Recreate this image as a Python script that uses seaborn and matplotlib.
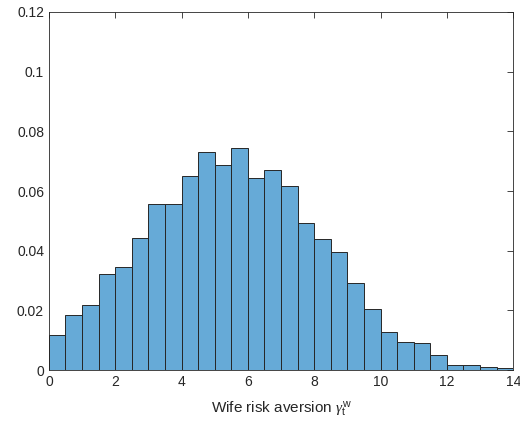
import numpy as np
import pandas as pd
import seaborn as sns
import matplotlib.pyplot as plt

# Bin edges (width 0.5) and normalized heights
bin_edges = np.arange(0, 14.5, 0.5)
bin_heights = [0.0118, 0.0184, 0.0218, 0.0323, 0.0347, 0.0443, 0.0557, 0.0557,
               0.0651, 0.0732, 0.0688, 0.0745, 0.0644, 0.0671, 0.0618, 0.0493,
               0.0440, 0.0396, 0.0292, 0.0206, 0.0129, 0.0096, 0.0091, 0.0050,
               0.0017, 0.0017, 0.0010, 0.0007]
bin_centers = (bin_edges[:-1] + bin_edges[1:]) / 2

x_ticks = [0, 2, 4, 6, 8, 10, 12, 14]
y_ticks = [0, 0.02, 0.04, 0.06, 0.08, 0.1, 0.12]
y_labels = ['0', '0.02', '0.04', '0.06', '0.08', '0.1', '0.12']

df = pd.DataFrame({'gamma': bin_centers, 'prob': bin_heights})

sns.set_style('white')
plt.rcParams['font.family'] = ['Liberation Sans', 'DejaVu Sans']
plt.rcParams['mathtext.fontset'] = 'custom'
plt.rcParams['mathtext.rm'] = 'Liberation Sans'
plt.rcParams['mathtext.it'] = 'Liberation Serif:italic'

fig, ax = plt.subplots(figsize=(5.2, 4.25), dpi=100)
fig.subplots_adjust(left=0.094, right=0.987, top=0.972, bottom=0.129)

sns.histplot(data=df, x='gamma', weights='prob', bins=list(bin_edges), ax=ax,
             color='#66AAD7', alpha=1, edgecolor='#262626', linewidth=0.7)

ax.set_xlim(0, 14)
ax.set_ylim(0, 0.12)
ax.set_xticks(x_ticks)
ax.set_yticks(y_ticks)
ax.set_yticklabels(y_labels)
ax.set_ylabel('')
ax.set_xlabel(r'Wife risk aversion $\gamma_\mathrm{t}^\mathrm{w}$', fontsize=11,
              color='#262626', labelpad=8)

for s in ax.spines.values():
    s.set_visible(True)
    s.set_color('#262626')
    s.set_linewidth(0.6)
ax.tick_params(direction='in', length=4, width=0.6, colors='#262626',
               labelsize=10, top=True, right=True, labeltop=False, labelright=False)

fig.savefig('out.png', dpi=100)
